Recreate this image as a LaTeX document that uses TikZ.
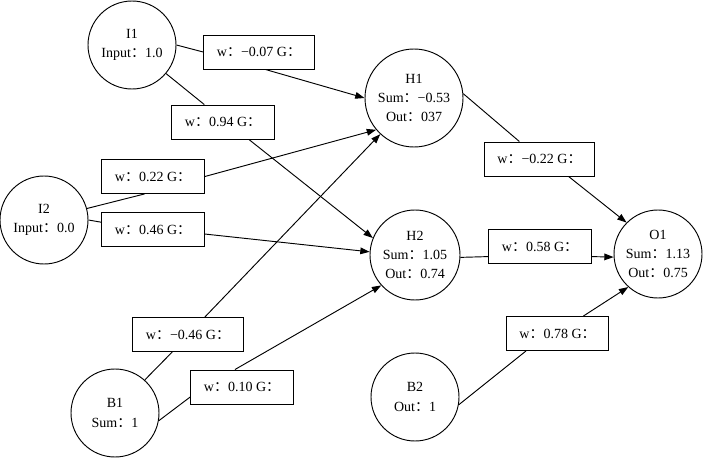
\documentclass[tikz,border=0pt]{standalone}
\usepackage{fontspec}
\setmainfont{Liberation Serif}
\newfontfamily\cjk{Noto Sans CJK SC}
\usetikzlibrary{arrows.meta}
\newcommand{\fc}{{\cjk ：}}
\tikzstyle{neuron}=[circle, draw, line width=0.7pt, minimum size=66pt, inner sep=0pt, align=center, font=\fontsize{10.5}{14.5}\selectfont]
\tikzstyle{weight}=[rectangle, draw, line width=0.7pt, minimum height=25.5pt, inner xsep=10pt, font=\fontsize{10.5}{14.5}\selectfont]
\tikzstyle{link}=[line width=0.7pt]
\tikzstyle{feed}=[line width=0.7pt, -{Triangle[length=7pt,width=5pt]}]

\begin{document}
\begin{tikzpicture}[x=0.75pt,y=-0.75pt]
	\useasboundingbox (0,0) rectangle (703,460);
	\node[neuron] (I1) at (132,45) {I1\\Input\fc 1.0};
	\node[neuron] (I2) at (44,220) {I2\\Input\fc 0.0};
	\node[neuron] (B1) at (115,413) {B1\\Sum\fc 1};
	\node[neuron, minimum size=73.5pt] (H1) at (414,98) {H1\\Sum\fc −0.53\\Out\fc 037};
	\node[neuron, minimum size=67.5pt] (H2) at (415,255) {H2\\Sum\fc 1.05\\Out\fc 0.74};
	\node[neuron] (B2) at (415,397) {B2\\Out\fc 1};
	\node[neuron] (O1) at (658,254) {O1\\Sum\fc 1.13\\Out\fc 0.75};
	\node[weight] (i1h1) at (259,52) {w\fc −0.07 G\fc};
	\node[weight] (i1h2) at (223,122) {w\fc 0.94 G\fc};
	\node[weight] (i2h1) at (153,176.5) {w\fc 0.22 G\fc};
	\node[weight] (i2h2) at (153,229.5) {w\fc 0.46 G\fc};
	\node[weight] (b1h1) at (188,334.5) {w\fc −0.46 G\fc};
	\node[weight] (b1h2) at (242,387) {w\fc 0.10 G\fc};
	\node[weight] (h1o1) at (539.5,159) {w\fc −0.22 G\fc};
	\node[weight] (h2o1) at (540,246.5) {w\fc 0.58 G\fc};
	\node[weight] (b2o1) at (557.5,333.5) {w\fc 0.78 G\fc};
	\draw[link] (I1.0) -- (i1h1.west);
	\draw[feed] (i1h1.-70) -- (H1.180);
	\draw[link] (I1.-40) -- (i1h2.137);
	\draw[feed] (i1h2.-34) -- (H2.158);
	\draw[link] (I2.15) -- (i2h1.-116);
	\draw[feed] (i2h1.east) -- (H1.-140);
	\draw[link] (I2.0) -- (i2h2.172);
	\draw[feed] (i2h2.-5) -- (H2.176);
	\draw[link] (B1.48) -- (b1h1.-132);
	\draw[feed] (b1h1.46) -- (H1.-133);
	\draw[link] (B1.-10) -- (b1h2.-169);
	\draw[feed] (b1h2.112) -- (H2.-138);
	\draw[link] (H1.5) -- (h1o1.139);
	\draw[feed] (h1o1.-31) -- (O1.135);
	\draw[link] (H2.-3) -- (h2o1.-169);
	\draw[feed] (h2o1.-11) -- (O1.-176);
	\draw[link] (B2.-10) -- (b2o1.-151);
	\draw[feed] (b2o1.34) -- (O1.-132);
\end{tikzpicture}
\end{document}
